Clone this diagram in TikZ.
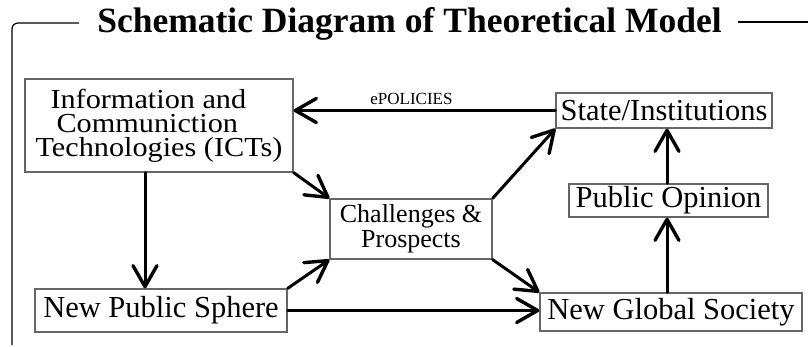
\documentclass[tikz,border=0pt]{standalone}
\usepackage{fontspec}
\setmainfont{Liberation Serif}
\newfontfamily\ictfont[FakeStretch=1.1]{Liberation Serif}
\usetikzlibrary{arrows.meta}
\begin{document}
\begin{tikzpicture}[x=1pt,y=-1pt,
  box/.style={draw=black!60, line width=1.3pt, inner sep=0pt, fill=white},
  boxtext/.style={font=\fontsize{30.5}{32}\selectfont},
  conn/.style={line width=3pt, line cap=round,
    -{Straight Barb[length=21pt,width=24pt,line width=3.4pt,line cap=round,line join=round]}},
  frame/.style={line width=1.2pt}]
\fill[white] (0,0) rectangle (808,347);
\useasboundingbox (0,0) rectangle (808,347);
% title and frame
\node[font=\fontsize{35.5}{40}\selectfont\bfseries, anchor=base, inner sep=0pt] (title) at (409.5,33) {Schematic Diagram of Theoretical Model};
\coordinate (fl) at (79,23);
\coordinate (fb) at (12,345);
\coordinate (fr1) at (738,22);
\coordinate (fr2) at (808,22);
\draw[frame, rounded corners=6pt] (fl) -- (12,23) -- (fb);
\draw[frame] (fr1) -- (fr2);
% boxes
\node[box, minimum width=268pt, minimum height=93pt, align=left,
  font=\ictfont\fontsize{27.5}{24}\selectfont] (ict) at (159,125.5)
  {\hspace*{15pt}Information and\\\hspace*{21pt}Communiction\\Technologies (ICTs)};
\node[box, boxtext, minimum width=216pt, minimum height=35pt] (state) at (664,110.5) {State/Institutions};
\node[box, boxtext, minimum width=199pt, minimum height=33pt] (po) at (668.5,200.5) {Public Opinion};
\node[box, minimum width=162pt, minimum height=60pt, align=center,
  font=\fontsize{26}{25}\selectfont] (chal) at (411,229) {Challenges \&\\Prospects};
\node[box, boxtext, minimum width=252pt, minimum height=43pt] (nps) at (161,310.5) {New Public Sphere};
\node[box, boxtext, minimum width=262pt, minimum height=38pt] (ngs) at (671,312) {New Global Society};
% connectors
\draw[conn] (state.west) -- (state.west -| ict.east)
  node[pos=0.55, anchor=base, yshift=6pt, inner sep=0pt, font=\fontsize{17}{18}\selectfont] (epol) {ePOLICIES};
\draw[conn] ([xshift=-14pt]ict.south) -- ([xshift=-14pt]ict.south |- nps.north);
\draw[conn] (ict.south east) -- (chal.north west);
\draw[conn] (nps.north east) -- (chal.south west);
\draw[conn] (chal.north east) -- (state.south west);
\draw[conn] (chal.south east) -- (ngs.north west);
\draw[conn] (nps.east) -- (nps.east -| ngs.west);
\draw[conn] ([xshift=-1.5pt]po.south |- ngs.north) -- ([xshift=-1.5pt]po.south);
\draw[conn] ([xshift=-1.5pt]po.north) -- ([xshift=-1.5pt]po.north |- state.south);
\end{tikzpicture}
\end{document}
